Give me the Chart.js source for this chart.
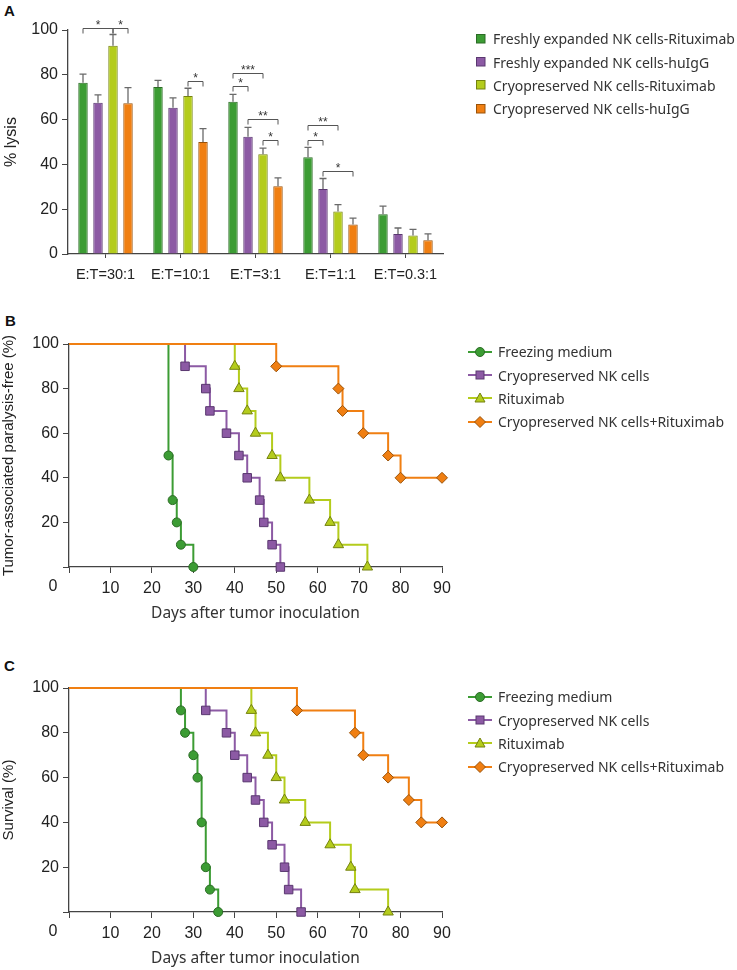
<!DOCTYPE html>
<html>
<head>
<meta charset="utf-8">
<script src="https://cdn.jsdelivr.net/npm/chart.js@4.4.0/dist/chart.umd.min.js"></script>
<style>
  body { margin: 0; background: #fff; }
  #fig { position: relative; width: 737px; height: 970px; overflow: hidden; }
  canvas { position: absolute; left: 0; }
  .tag { position: absolute; font: bold 15px 'Liberation Sans', Arial, sans-serif; color: #111; }
  .legend { position: absolute; font: 14px 'Noto Sans', sans-serif; color: #333; }
  .legend .row { height: 23.4px; display: flex; align-items: center; white-space: nowrap; }
  .legend svg { flex: none; }
</style>
</head>
<body>
<div id="fig">
  <div class="tag" style="left:4px;top:2px">A</div>
  <div class="tag" style="left:5px;top:312px">B</div>
  <div class="tag" style="left:4px;top:657px">C</div>
  <canvas id="lysisChart" width="737" height="300" style="top:0"></canvas>
  <canvas id="paralysisChart" width="737" height="330" style="top:300px"></canvas>
  <canvas id="survivalChart" width="737" height="340" style="top:630px"></canvas>
  <div class="legend" id="legendA" style="left:476px;top:27px"></div>
  <div class="legend" id="legendB" style="left:468px;top:340px"></div>
  <div class="legend" id="legendC" style="left:468px;top:685px"></div>
</div>
<script>
// ---- panel A: % lysis by E:T ratio ----
const ratios = ['E:T=30:1', 'E:T=10:1', 'E:T=3:1', 'E:T=1:1', 'E:T=0.3:1'];
const lysisFreshRtx = [76.5, 74.5, 68, 43.2, 17.7];
const lysisFreshIgG = [67.5, 65.3, 52.3, 29, 8.9];
const lysisCryoRtx = [93, 70.5, 44.5, 19, 8.3];
const lysisCryoIgG = [67.3, 50, 30.2, 13.2, 6.1];
const errFreshRtx = [3.8, 3, 3.3, 4.4, 3.7];
const errFreshIgG = [3.5, 4.4, 4.2, 4.7, 2.7];
const errCryoRtx = [5, 3.5, 2.8, 3, 2.7];
const errCryoIgG = [7, 6, 3.8, 2.8, 2.9];

// significance brackets: group index, from bar, to bar, level (% lysis), label
const sigGroup = [0, 0, 1, 2, 2, 2, 2, 3, 3, 3];
const sigFrom = [0, 2, 2, 0, 0, 1, 2, 0, 0, 1];
const sigTo = [2, 3, 3, 1, 2, 3, 3, 1, 2, 3];
const sigLevel = [101, 101, 77.2, 75, 80.7, 60.1, 50.8, 51, 57.4, 37];
const sigMark = ['*', '*', '*', '*', '***', '**', '*', '*', '**', '*'];

// ---- panel B: tumor-associated paralysis-free (%) ----
const pfDaysFreeze = [0, 24, 25, 26, 27, 30];
const pfFreeze = [100, 50, 30, 20, 10, 0];
const pfDaysCryo = [0, 28, 33, 34, 38, 41, 43, 46, 47, 49, 51];
const pfCryo = [100, 90, 80, 70, 60, 50, 40, 30, 20, 10, 0];
const pfDaysRtx = [0, 40, 41, 43, 45, 49, 51, 58, 63, 65, 72];
const pfRtx = [100, 90, 80, 70, 60, 50, 40, 30, 20, 10, 0];
const pfDaysCombo = [0, 50, 65, 66, 71, 77, 80, 90];
const pfCombo = [100, 90, 80, 70, 60, 50, 40, 40];

// ---- panel C: survival (%) ----
const osDaysFreeze = [0, 27, 28, 30, 31, 32, 33, 34, 36];
const osFreeze = [100, 90, 80, 70, 60, 40, 20, 10, 0];
const osDaysCryo = [0, 33, 38, 40, 43, 45, 47, 49, 52, 53, 56];
const osCryo = [100, 90, 80, 70, 60, 50, 40, 30, 20, 10, 0];
const osDaysRtx = [0, 44, 45, 48, 50, 52, 57, 63, 68, 69, 77];
const osRtx = [100, 90, 80, 70, 60, 50, 40, 30, 20, 10, 0];
const osDaysCombo = [0, 55, 69, 71, 77, 82, 85, 90];
const osCombo = [100, 90, 80, 70, 60, 50, 40, 40];

const barNames = ['Freshly expanded NK cells-Rituximab', 'Freshly expanded NK cells-huIgG',
  'Cryopreserved NK cells-Rituximab', 'Cryopreserved NK cells-huIgG'];
const groupNames = ['Freezing medium', 'Cryopreserved NK cells', 'Rituximab', 'Cryopreserved NK cells+Rituximab'];

const green = '#3c9c34', purple = '#8c5aa4', lime = '#b4cc1c', orange = '#f07f12';
const greenDk = '#2b6b25', purpleDk = '#5a3870', limeDk = '#74820f', orangeDk = '#9a5208';
const axisColor = '#444';
const tickFont = { family: "'Liberation Sans', Arial, sans-serif", size: 16 };

Chart.defaults.font.family = "'Liberation Sans', Arial, sans-serif";
Chart.defaults.color = '#222';

// error bars + significance brackets for panel A
const barExtras = {
  id: 'barExtras',
  afterDatasetsDraw(chart) {
    const ctx = chart.ctx;
    const y = chart.scales.y;
    ctx.save();
    ctx.strokeStyle = '#6a6a6a';
    ctx.lineWidth = 1.3;
    chart.data.datasets.forEach((ds, di) => {
      chart.getDatasetMeta(di).data.forEach((bar, i) => {
        const top = y.getPixelForValue(ds.data[i] + ds.errors[i]);
        ctx.beginPath();
        ctx.moveTo(bar.x, bar.y);
        ctx.lineTo(bar.x, top);
        ctx.moveTo(bar.x - 3.5, top);
        ctx.lineTo(bar.x + 3.5, top);
        ctx.stroke();
      });
    });
    ctx.strokeStyle = '#555';
    ctx.lineWidth = 1;
    ctx.fillStyle = '#333';
    ctx.font = "12px 'Liberation Sans', Arial, sans-serif";
    ctx.textAlign = 'center';
    ctx.textBaseline = 'alphabetic';
    sigGroup.forEach((g, k) => {
      const x1 = chart.getDatasetMeta(sigFrom[k]).data[g].x;
      const x2 = chart.getDatasetMeta(sigTo[k]).data[g].x;
      const yl = Math.round(y.getPixelForValue(sigLevel[k])) + 0.5;
      ctx.beginPath();
      ctx.moveTo(x1, yl + 5);
      ctx.lineTo(x1, yl);
      ctx.lineTo(x2, yl);
      ctx.lineTo(x2, yl + 5);
      ctx.stroke();
      ctx.fillText(sigMark[k], (x1 + x2) / 2, yl + 0.5);
    });
    ctx.restore();
  }
};

// shared "0" at the origin of panels B and C
const originLabel = {
  id: 'originLabel',
  afterDraw(chart) {
    const x = chart.scales.x;
    const ctx = chart.ctx;
    ctx.save();
    ctx.font = "16px 'Liberation Sans', Arial, sans-serif";
    ctx.fillStyle = '#222';
    ctx.textAlign = 'center';
    ctx.textBaseline = 'top';
    ctx.fillText('0', x.getPixelForValue(0) - 16, x.top + 6 + 6);
    ctx.restore();
  }
};

function barSet(label, data, errors, color, border) {
  return { label, data, errors, backgroundColor: color, borderColor: border, borderWidth: 1 };
}

new Chart(document.getElementById('lysisChart'), {
  type: 'bar',
  data: {
    labels: ratios,
    datasets: [
      barSet(barNames[0], lysisFreshRtx, errFreshRtx, green, greenDk),
      barSet(barNames[1], lysisFreshIgG, errFreshIgG, purple, purpleDk),
      barSet(barNames[2], lysisCryoRtx, errCryoRtx, lime, limeDk),
      barSet(barNames[3], lysisCryoIgG, errCryoIgG, orange, orangeDk)
    ]
  },
  options: {
    responsive: false,
    animation: false,
    layout: { padding: { top: 30, right: 294, bottom: 0, left: 0 } },
    datasets: { bar: { categoryPercentage: 0.8, barPercentage: 0.63 } },
    plugins: { legend: { display: false }, tooltip: { enabled: false } },
    scales: {
      x: {
        grid: { display: true, offset: false, drawOnChartArea: false, tickLength: 4, color: axisColor },
        border: { color: axisColor, width: 1.3 },
        ticks: { font: { size: 14.5 }, padding: 8, color: '#222' },
        afterFit(scale) { scale.height = 46; }
      },
      y: {
        min: 0, max: 100,
        grid: { display: true, drawOnChartArea: false, tickLength: 6, color: axisColor },
        border: { color: axisColor, width: 1.3 },
        ticks: { stepSize: 20, font: tickFont, padding: 4, color: '#222' },
        title: { display: true, text: '% lysis', font: { size: 16 }, color: '#222', padding: { top: 2, bottom: 0 } },
        afterFit(scale) { scale.width = 68; }
      }
    }
  },
  plugins: [barExtras]
});

function kmSet(label, days, vals, color, border, pointStyle, radius, order) {
  return {
    label,
    data: days.map((d, i) => ({ x: d, y: vals[i] })),
    stepped: 'before',
    borderColor: color,
    borderWidth: 2,
    backgroundColor: color,
    pointBackgroundColor: color,
    pointBorderColor: border,
    pointBorderWidth: 1,
    pointStyle,
    pointRadius: ctx => (ctx.dataIndex === 0 ? 0 : radius),
    clip: false,
    order
  };
}

function kmChart(id, yTitle, padTop, padBottom, sets) {
  return new Chart(document.getElementById(id), {
    type: 'line',
    data: { datasets: sets },
    options: {
      responsive: false,
      animation: false,
      layout: { padding: { top: padTop, right: 295, bottom: padBottom, left: 0 } },
      plugins: { legend: { display: false }, tooltip: { enabled: false } },
      scales: {
        x: {
          type: 'linear', min: 0, max: 90,
          grid: { display: true, drawOnChartArea: false, tickLength: 6, color: axisColor },
          border: { color: axisColor, width: 1.3 },
          ticks: { stepSize: 10, font: tickFont, padding: 6, color: '#222', callback: v => (v === 0 ? '' : v) },
          title: { display: true, text: 'Days after tumor inoculation', font: { family: "'Noto Sans', sans-serif", size: 15.5 }, color: '#333', padding: { top: 0, bottom: 0 } },
          afterFit(scale) { scale.height = 56; }
        },
        y: {
          min: 0, max: 100,
          grid: { display: true, drawOnChartArea: false, tickLength: 6, color: axisColor },
          border: { color: axisColor, width: 1.3 },
          ticks: { stepSize: 20, font: tickFont, padding: 4, color: '#222', callback: v => (v === 0 ? '' : v) },
          title: { display: true, text: yTitle, font: { size: 15 }, color: '#222', padding: { top: 0, bottom: 0 } },
          afterFit(scale) { scale.width = 69; }
        }
      }
    },
    plugins: [originLabel]
  });
}

kmChart('paralysisChart', 'Tumor-associated paralysis-free (%)', 44, 7, [
  kmSet(groupNames[0], pfDaysFreeze, pfFreeze, green, greenDk, 'circle', 4.5, 3),
  kmSet(groupNames[1], pfDaysCryo, pfCryo, purple, purpleDk, 'rect', 6, 2),
  kmSet(groupNames[2], pfDaysRtx, pfRtx, lime, limeDk, 'triangle', 6, 1),
  kmSet(groupNames[3], pfDaysCombo, pfCombo, orange, orangeDk, 'rectRot', 5.5, 0)
]);

kmChart('survivalChart', 'Survival (%)', 58, 2, [
  kmSet(groupNames[0], osDaysFreeze, osFreeze, green, greenDk, 'circle', 4.5, 3),
  kmSet(groupNames[1], osDaysCryo, osCryo, purple, purpleDk, 'rect', 6, 2),
  kmSet(groupNames[2], osDaysRtx, osRtx, lime, limeDk, 'triangle', 6, 1),
  kmSet(groupNames[3], osDaysCombo, osCombo, orange, orangeDk, 'rectRot', 5.5, 0)
]);

// ---- legends ----
function squareIcon(color, border) {
  return `<svg width="17" height="12"><rect x="0.5" y="1.5" width="8.5" height="8.5" fill="${color}" stroke="${border}" stroke-width="1"/></svg>`;
}
function markerIcon(kind, color, border) {
  let m = '';
  if (kind === 'circle') m = `<circle cx="12" cy="6" r="4.5" fill="${color}" stroke="${border}"/>`;
  if (kind === 'rect') m = `<rect x="8" y="2" width="8" height="8" fill="${color}" stroke="${border}"/>`;
  if (kind === 'triangle') m = `<polygon points="12,1 17,10 7,10" fill="${color}" stroke="${border}"/>`;
  if (kind === 'rectRot') m = `<polygon points="12,0.5 17.5,6 12,11.5 6.5,6" fill="${color}" stroke="${border}"/>`;
  return `<svg width="30" height="12"><line x1="0" y1="6" x2="24" y2="6" stroke="${color}" stroke-width="2"/>${m}</svg>`;
}

const legendA = document.getElementById('legendA');
const barColors = [[green, greenDk], [purple, purpleDk], [lime, limeDk], [orange, orangeDk]];
barNames.forEach((name, i) => {
  legendA.innerHTML += `<div class="row">${squareIcon(barColors[i][0], barColors[i][1])}<span>${name}</span></div>`;
});

const markerKinds = ['circle', 'rect', 'triangle', 'rectRot'];
['legendB', 'legendC'].forEach(id => {
  const el = document.getElementById(id);
  groupNames.forEach((name, i) => {
    el.innerHTML += `<div class="row">${markerIcon(markerKinds[i], barColors[i][0], barColors[i][1])}<span>${name}</span></div>`;
  });
});
</script>
</body>
</html>
